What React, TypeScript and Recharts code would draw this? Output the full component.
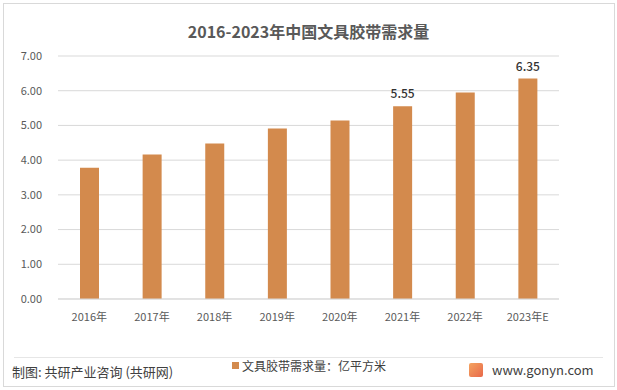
import React from 'react';
import { BarChart, Bar, XAxis, YAxis, CartesianGrid, LabelList } from 'recharts';

const categories = ['2016年', '2017年', '2018年', '2019年', '2020年', '2021年', '2022年', '2023年E'];
const demand = [3.78, 4.16, 4.48, 4.91, 5.14, 5.55, 5.95, 6.35];
const labelled = ['2021年', '2023年E'];
const yTicks = [0, 1, 2, 3, 4, 5, 6, 7];

const seriesName = '文具胶带需求量：亿平方米';
const title = '2016-2023年中国文具胶带需求量';
const source = '制图: 共研产业咨询 (共研网)';
const site = 'www.gonyn.com';

const data = categories.map((c, i) => ({ name: c, value: demand[i] }));

const FONT = '"Noto Sans CJK SC", "Noto Sans", sans-serif';
const BAR = '#D38A4D';

const renderLabel = (props: any) => {
  const { x, y, width, value, index } = props;
  if (!labelled.includes(categories[index])) return null;
  return (
    <text x={x + width / 2} y={y - 8} textAnchor="middle" fontSize={12} fontWeight={500} fill="#333" fontFamily={FONT}>
      {Number(value).toFixed(2)}
    </text>
  );
};

export default function App() {
  return (
    <div style={{ position: 'absolute', left: 0, top: 0, width: 617, height: 390, background: '#fff', fontFamily: FONT }}>
      <div style={{ position: 'absolute', left: 3, top: 3, width: 610, height: 382, border: '1px solid #d9d9d9' }} />
      <div style={{ position: 'absolute', left: 0, width: 617, top: 19, textAlign: 'center', fontSize: 16, fontWeight: 'bold', color: '#595959' }}>
        {title}
      </div>
      <div style={{ position: 'absolute', left: 0, top: 0 }}>
        <BarChart width={617} height={390} data={data} margin={{ top: 56, right: 58, bottom: 71, left: 0 }}>
          <CartesianGrid vertical={false} stroke="#d9d9d9" />
          <XAxis
            dataKey="name"
            height={20}
            axisLine={{ stroke: '#d9d9d9' }}
            tickLine={false}
            tick={{ fontSize: 11, fill: '#595959', fontFamily: FONT }}
            tickMargin={8}
          />
          <YAxis
            width={58}
            domain={[0, 7]}
            ticks={yTicks}
            axisLine={false}
            tickLine={false}
            tickFormatter={(v: number) => v.toFixed(2)}
            tick={{ fontSize: 11, fill: '#595959', fontFamily: FONT }}
            tickMargin={10}
          />
          <Bar dataKey="value" name={seriesName} fill={BAR} barSize={19} isAnimationActive={false}>
            <LabelList dataKey="value" content={renderLabel} />
          </Bar>
        </BarChart>
      </div>
      <div style={{ position: 'absolute', left: 14, top: 357, width: 589, borderTop: '1px solid #e6e6e6' }} />
      <div style={{ position: 'absolute', left: 232, top: 357, display: 'flex', alignItems: 'center', fontSize: 12, color: '#404040' }}>
        <span style={{ display: 'inline-block', width: 7, height: 7, background: BAR, marginRight: 3 }} />
        <span>{seriesName}</span>
      </div>
      <div style={{ position: 'absolute', left: 12, top: 362, fontSize: 13, color: '#404040' }}>{source}</div>
      <div style={{ position: 'absolute', left: 469, top: 363, width: 14, height: 14, background: 'linear-gradient(135deg,#f4a460,#e8684a)', borderRadius: 2 }} />
      <div style={{ position: 'absolute', left: 492, top: 360, fontSize: 13, color: '#404040' }}>{site}</div>
    </div>
  );
}
